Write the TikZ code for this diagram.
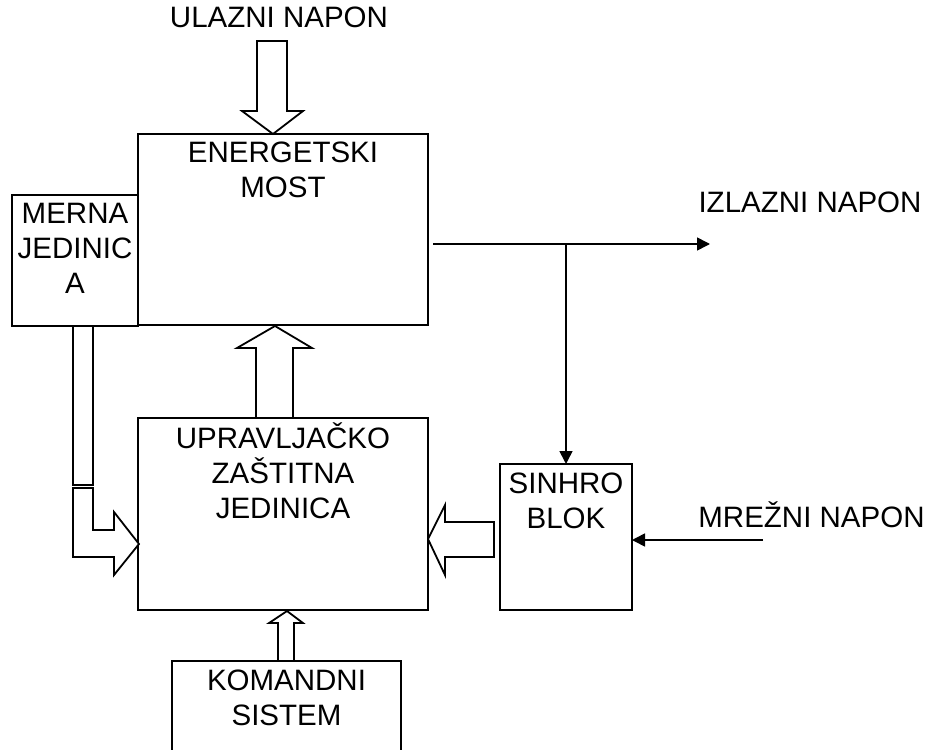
\documentclass[tikz,border=0pt]{standalone}
\usepackage{fontspec}
\setmainfont{Liberation Sans}
\usetikzlibrary{arrows.meta}
\begin{document}
\begin{tikzpicture}[x=1pt,y=-1pt,
  every node/.style={font=\fontsize{29.5}{35}\selectfont},
  box/.style={draw,line width=1.8pt,anchor=north west,inner sep=0pt,outer sep=0pt},
  lbl/.style={anchor=north,inner sep=0pt,align=center},
  blk/.style={draw,line width=1.8pt,fill=white,line join=miter},
  arr/.style={line width=1.6pt,-{Triangle[length=13pt,width=13pt]}}]
\useasboundingbox (0,0) rectangle (930,750);
% boxes
\node[box,minimum width=290pt,minimum height=191pt] (em) at (138,134) {};
\node[box,minimum width=126pt,minimum height=131pt] (mj) at (12,195) {};
\node[box,minimum width=290pt,minimum height=192pt] (uz) at (138,418) {};
\node[box,minimum width=132pt,minimum height=146pt] (sb) at (500,464) {};
\node[box,minimum width=229pt,minimum height=100pt] (ks) at (172,661) {};
% labels
\node[lbl] (tul) at (279,7) {ULAZNI NAPON};
\node[lbl] (tem) at (283,142) {ENERGETSKI\\MOST};
\node[lbl] (tmj) at (75,203) {MERNA\\JEDINIC\\A};
\node[lbl] (tuz) at (283,423) {UPRAVLJAČKO\\ZAŠTITNA\\JEDINICA};
\node[lbl] (tsb) at (566,473) {SINHRO\\BLOK};
\node[lbl] (tks) at (286.5,670) {KOMANDNI\\SISTEM};
\node[lbl] (tiz) at (810,192) {IZLAZNI NAPON};
\node[lbl] (tmr) at (811.5,502) {MREŽNI NAPON};
% block arrows
\draw[blk] (257,41) -- (287,41) -- (287,111) -- (303,111) -- (273,134) -- (242,111) -- (257,111) -- cycle;
\draw[blk] (256,418) -- (256,348) -- (237,348) -- (275,326) -- (312,348) -- (293,348) -- (293,418) -- cycle;
\draw[blk] (73,326) rectangle (93,485);
\draw[blk] (93,488) -- (93,530) -- (114,530) -- (114,512) -- (139,544) -- (114,575) -- (114,557) -- (73,557) -- (73,488) -- cycle;
\draw[blk] (494,522) -- (445,522) -- (445,505) -- (428,539) -- (445,575) -- (445,557) -- (494,557) -- cycle;
\draw[blk] (278,661) -- (278,623) -- (269,623) -- (287,611) -- (303,623) -- (294,623) -- (294,661) -- cycle;
% line connectors
\coordinate (os) at (433,244);
\coordinate (br) at (566,244);
\coordinate (oe) at (710,244);
\coordinate (ms) at (763,540);
\draw[arr] (os) -- (oe);
\draw[arr] (br) -- (sb.north -| br);
\draw[arr] (ms) -- (sb.east |- ms);
\end{tikzpicture}
\end{document}
